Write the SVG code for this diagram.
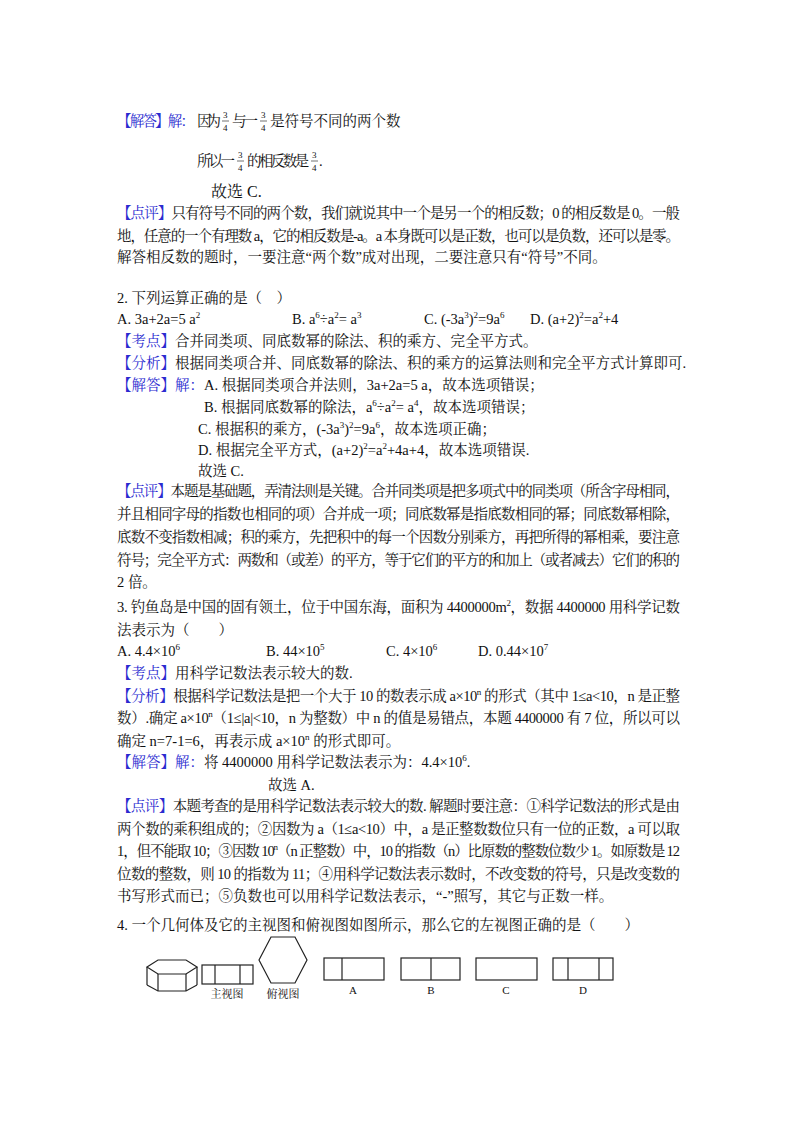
<svg xmlns="http://www.w3.org/2000/svg" width="800" height="1132" viewBox="0 0 800 1132">
<style>
text{font-family:"Liberation Serif","Noto Serif CJK SC","Noto Sans CJK SC",serif;font-size:14.5px;fill:#111}
.b{fill:#2b2bd0}
.s{font-size:9px}
.f{font-size:9px}
.fig{fill:none;stroke:#222;stroke-width:1.2}
.l{font-size:11px;text-anchor:middle}
</style>
<rect width="800" height="1132" fill="#fff"/>
<g id="q1">
<text x="117" y="126" class="b" textLength="78">【解答】解：</text>
<text x="197" y="126" textLength="24">因为</text>
<text x="223" y="118" class="f">3</text><line x1="222" y1="121" x2="229" y2="121" stroke="#111" stroke-width="0.6"/><text x="223" y="131" class="f">4</text>
<text x="232" y="126" textLength="26">与一</text>
<text x="261" y="118" class="f">3</text><line x1="260" y1="121" x2="267" y2="121" stroke="#111" stroke-width="0.6"/><text x="261" y="131" class="f">4</text>
<text x="270" y="126">是符号不同的两个数</text>
<text x="197" y="166" textLength="38">所以一</text>
<text x="238" y="158" class="f">3</text><line x1="237" y1="161" x2="244" y2="161" stroke="#111" stroke-width="0.6"/><text x="238" y="171" class="f">4</text>
<text x="247" y="166" textLength="62">的相反数是</text>
<text x="312" y="158" class="f">3</text><line x1="311" y1="161" x2="318" y2="161" stroke="#111" stroke-width="0.6"/><text x="312" y="171" class="f">4</text>
<text x="319" y="166">.</text>
<text x="211" y="197" style="font-size:16px">故选 C.</text>
<text x="117" y="218" textLength="563"><tspan class="b">【点评】</tspan>只有符号不同的两个数，我们就说其中一个是另一个的相反数；0 的相反数是 0。一般</text>
<text x="117" y="241" textLength="563">地，任意的一个有理数 a，它的相反数是-a。a 本身既可以是正数，也可以是负数，还可以是零。</text>
<text x="117" y="262">解答相反数的题时，一要注意“两个数”成对出现，二要注意只有“符号”不同。</text>
</g>
<g id="q2">
<text x="117" y="303">2. 下列运算正确的是（　）</text>
<text x="117" y="324">A.  3a+2a=5  a<tspan class="s" dy="-6">2</tspan></text>
<text x="292" y="324">B.  a<tspan class="s" dy="-6">6</tspan><tspan dy="6">÷a</tspan><tspan class="s" dy="-6">2</tspan><tspan dy="6">=  a</tspan><tspan class="s" dy="-6">3</tspan></text>
<text x="424" y="324">C.  (-3a<tspan class="s" dy="-6">3</tspan><tspan dy="6">)</tspan><tspan class="s" dy="-6">2</tspan><tspan dy="6">=9a</tspan><tspan class="s" dy="-6">6</tspan></text>
<text x="530" y="324">D.  (a+2)<tspan class="s" dy="-6">2</tspan><tspan dy="6">=a</tspan><tspan class="s" dy="-6">2</tspan><tspan dy="6">+4</tspan></text>
<text x="117" y="346"><tspan class="b">【考点】</tspan>合并同类项、同底数幂的除法、积的乘方、完全平方式。</text>
<text x="117" y="368"><tspan class="b">【分析】</tspan>根据同类项合并、同底数幂的除法、积的乘方的运算法则和完全平方式计算即可.</text>
<text x="117" y="390"><tspan class="b">【解答】解：</tspan>A.  根据同类项合并法则，3a+2a=5  a，故本选项错误；</text>
<text x="204" y="412">B. 根据同底数幂的除法，a<tspan class="s" dy="-6">6</tspan><tspan dy="6">÷a</tspan><tspan class="s" dy="-6">2</tspan><tspan dy="6">=  a</tspan><tspan class="s" dy="-6">4</tspan><tspan dy="6">，故本选项错误；</tspan></text>
<text x="198" y="434">C. 根据积的乘方，(-3a<tspan class="s" dy="-6">3</tspan><tspan dy="6">)</tspan><tspan class="s" dy="-6">2</tspan><tspan dy="6">=9a</tspan><tspan class="s" dy="-6">6</tspan><tspan dy="6">，故本选项正确；</tspan></text>
<text x="198" y="455">D. 根据完全平方式，(a+2)<tspan class="s" dy="-6">2</tspan><tspan dy="6">=a</tspan><tspan class="s" dy="-6">2</tspan><tspan dy="6">+4a+4，故本选项错误.</tspan></text>
<text x="198" y="476">故选 C.</text>
<text x="117" y="496" textLength="563"><tspan class="b">【点评】</tspan>本题是基础题，弄清法则是关键。合并同类项是把多项式中的同类项（所含字母相同，</text>
<text x="117" y="519" textLength="563">并且相同字母的指数也相同的项）合并成一项；同底数幂是指底数相同的幂；同底数幂相除，</text>
<text x="117" y="542" textLength="563">底数不变指数相减；积的乘方，先把积中的每一个因数分别乘方，再把所得的幂相乘，要注意</text>
<text x="117" y="565" textLength="563">符号；完全平方式：两数和（或差）的平方，等于它们的平方的和加上（或者减去）它们的积的</text>
<text x="117" y="587">2 倍。</text>
</g>
<g id="q3">
<text x="117" y="612" textLength="563">3. 钓鱼岛是中国的固有领土，位于中国东海，面积为 4400000m<tspan class="s" dy="-6">2</tspan><tspan dy="6">，数据 4400000 用科学记数</tspan></text>
<text x="117" y="635">法表示为（　　）</text>
<text x="117" y="656">A.  4.4×10<tspan class="s" dy="-6">6</tspan></text>
<text x="266" y="656">B.  44×10<tspan class="s" dy="-6">5</tspan></text>
<text x="386" y="656">C.  4×10<tspan class="s" dy="-6">6</tspan></text>
<text x="478" y="656">D.  0.44×10<tspan class="s" dy="-6">7</tspan></text>
<text x="117" y="678"><tspan class="b">【考点】</tspan>用科学记数法表示较大的数.</text>
<text x="117" y="701" textLength="563"><tspan class="b">【分析】</tspan>根据科学记数法是把一个大于 10 的数表示成 a×10<tspan class="s" dy="-6">n</tspan><tspan dy="6"> 的形式（其中 1≤a&lt;10，n 是正整</tspan></text>
<text x="117" y="723" textLength="563">数）.确定 a×10<tspan class="s" dy="-6">n</tspan><tspan dy="6">（1≤|a|&lt;10，n 为整数）中 n 的值是易错点，本题 4400000 有 7 位，所以可以</tspan></text>
<text x="117" y="746">确定 n=7-1=6，再表示成 a×10<tspan class="s" dy="-6">n</tspan><tspan dy="6"> 的形式即可。</tspan></text>
<text x="117" y="767"><tspan class="b">【解答】解：</tspan>将 4400000 用科学记数法表示为：4.4×10<tspan class="s" dy="-6">6</tspan><tspan dy="6">.</tspan></text>
<text x="268" y="790">故选 A.</text>
<text x="117" y="811" textLength="563"><tspan class="b">【点评】</tspan>本题考查的是用科学记数法表示较大的数. 解题时要注意：①科学记数法的形式是由</text>
<text x="117" y="834" textLength="563">两个数的乘积组成的；②因数为 a（1≤a&lt;10）中，a 是正整数数位只有一位的正数，a 可以取</text>
<text x="117" y="856" textLength="563">1，但不能取 10；③因数 10<tspan class="s" dy="-6">n</tspan><tspan dy="6">（n 正整数）中，10 的指数（n）比原数的整数位数少 1。如原数是 12</tspan></text>
<text x="117" y="879" textLength="563">位数的整数，则 10 的指数为 11；④用科学记数法表示数时，不改变数的符号，只是改变数的</text>
<text x="117" y="901">书写形式而已；⑤负数也可以用科学记数法表示，“-”照写，其它与正数一样。</text>
</g>
<g id="q4">
<text x="117" y="930">4. 一个几何体及它的主视图和俯视图如图所示，那么它的左视图正确的是（　　）</text>
</g>
<g id="prism" class="fig">
<polygon points="147,967 158,960 186,960 197,967 186,974 158,974"/>
<line x1="147" y1="967" x2="147" y2="985"/><line x1="158" y1="974" x2="158" y2="991"/><line x1="186" y1="974" x2="186" y2="991"/><line x1="197" y1="967" x2="197" y2="985"/>
<polyline points="147,985 158,991 186,991 197,985"/>
</g>
<g id="front"><rect class="fig" x="202" y="965" width="51" height="19"/><line class="fig" x1="215" y1="965" x2="215" y2="984"/><line class="fig" x1="240" y1="965" x2="240" y2="984"/><text x="227" y="998" class="l">主视图</text></g>
<g id="top"><polygon class="fig" points="259,960 271,937 295,937 307,960 295,983 271,983"/><text x="283" y="998" class="l">俯视图</text></g>
<g id="optA"><rect class="fig" x="324" y="958" width="60" height="22"/><line class="fig" x1="342" y1="958" x2="342" y2="980"/><text x="353" y="994" class="l">A</text></g>
<g id="optB"><rect class="fig" x="401" y="958" width="59" height="22"/><line class="fig" x1="431" y1="958" x2="431" y2="980"/><text x="431" y="994" class="l">B</text></g>
<g id="optC"><rect class="fig" x="476" y="958" width="61" height="22"/><text x="506" y="994" class="l">C</text></g>
<g id="optD"><rect class="fig" x="553" y="958" width="60" height="22"/><line class="fig" x1="568" y1="958" x2="568" y2="980"/><line class="fig" x1="599" y1="958" x2="599" y2="980"/><text x="583" y="994" class="l">D</text></g>
<g id="connectors"/>
</svg>
